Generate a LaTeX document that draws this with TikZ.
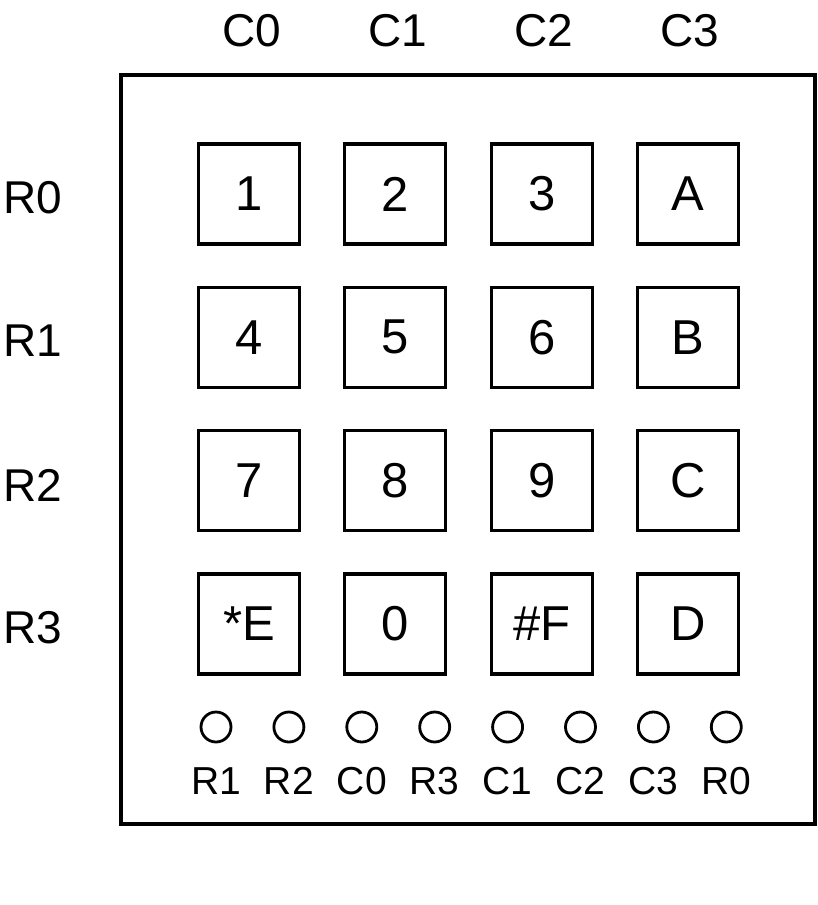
\documentclass[tikz,border=0pt]{standalone}
\usepackage{fontspec}
\setmainfont{Liberation Sans}
\begin{document}
\begin{tikzpicture}[x=1pt,y=-1pt,
  keybox/.style={draw,line width=3.3pt,minimum width=101pt,minimum height=100pt,inner sep=0pt,font=\fontsize{49}{49}\selectfont},
  lbl/.style={inner sep=0pt,font=\fontsize{46}{46}\selectfont},
  pin/.style={draw,circle,line width=2.8pt,minimum size=30pt,inner sep=0pt},
  pinlbl/.style={inner sep=0pt,font=\fontsize{39}{39}\selectfont}]
\useasboundingbox (0,0) rectangle (818,905);
\node[draw,line width=3.2pt,minimum width=694pt,minimum height=749pt,inner sep=0pt] (body) at (468,449.5) {};
% column labels
\node[lbl] (c0) at (252,31) {C0};
\node[lbl] (c1) at (398,31) {C1};
\node[lbl] (c2) at (544,31) {C2};
\node[lbl] (c3) at (690,31) {C3};
% row labels
\node[lbl,anchor=west] (r0) at (3,198) {R0};
\node[lbl,anchor=west] (r1) at (3,341) {R1};
\node[lbl,anchor=west] (r2) at (3,485) {R2};
\node[lbl,anchor=west] (r3) at (3,628) {R3};
% keys
\node[keybox] (k1) at (249,194) {1};
\node[keybox] (k2) at (395.3,194) {2};
\node[keybox] (k3) at (541.7,194) {3};
\node[keybox] (kA) at (688,194) {A};
\node[keybox] (k4) at (249,337.3) {4};
\node[keybox] (k5) at (395.3,337.3) {5};
\node[keybox] (k6) at (541.7,337.3) {6};
\node[keybox] (kB) at (688,337.3) {B};
\node[keybox] (k7) at (249,480.7) {7};
\node[keybox] (k8) at (395.3,480.7) {8};
\node[keybox] (k9) at (541.7,480.7) {9};
\node[keybox] (kC) at (688,480.7) {C};
\node[keybox] (kE) at (249,624) {*E};
\node[keybox] (k0) at (395.3,624) {0};
\node[keybox] (kF) at (541.7,624) {\#F};
\node[keybox] (kD) at (688,624) {D};
% pins
\foreach \i/\t in {0/R1,1/R2,2/C0,3/R3,4/C1,5/C2,6/C3,7/R0}{
  \node[pin] (p\i) at ({216+72.9*\i},727) {};
  \node[pinlbl] (pl\i) at ({216+72.9*\i},781) {\t};
}
\end{tikzpicture}
\end{document}
